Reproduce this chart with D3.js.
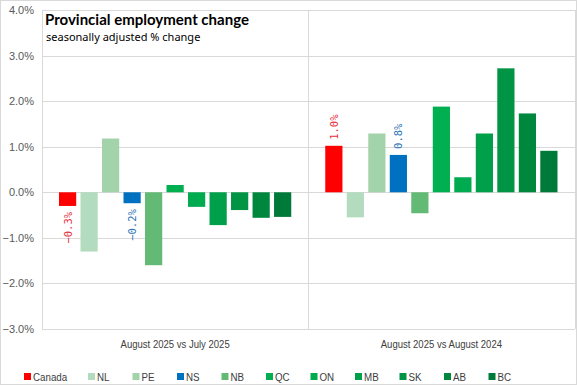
<!DOCTYPE html>
<html>
<head>
<meta charset="utf-8">
<script src="https://cdn.jsdelivr.net/npm/d3@7"></script>
<style>
  body { margin: 0; background: #fff; }
  svg { display: block; }
</style>
</head>
<body>
<div id="chart"></div>
<script>
const categories = ['August 2025 vs July 2025', 'August 2025 vs August 2024'];
const regions = ['Canada', 'NL', 'PE', 'NS', 'NB', 'QC', 'ON', 'MB', 'SK', 'AB', 'BC'];
const monthly = [-0.3, -1.3, 1.18, -0.24, -1.6, 0.16, -0.32, -0.72, -0.39, -0.56, -0.54];
const yearly = [1.02, -0.55, 1.29, 0.82, -0.46, 1.88, 0.33, 1.29, 2.72, 1.73, 0.91];
const colors = ['#ff0000', '#b3dcbf', '#a3d3aa', '#0070c0', '#63ba74', '#00b050',
  '#00aa4f', '#009f49', '#009444', '#00873e', '#007a38'];
const yTicks = [4, 3, 2, 1, 0, -1, -2, -3];
// only Canada and NS get a value label
const labelled = ['Canada', 'NS'];
const labelColors = { Canada: '#e8303a', NS: '#2e75b6' };

const width = 577, height = 385;
const margin = { top: 10, right: 2, bottom: 56, left: 42 };
const narrow = 'Liberation Sans, Arial, sans-serif';

const svg = d3.select('#chart').append('svg')
  .attr('width', width)
  .attr('height', height);

// outer frame
svg.append('rect')
  .attr('x', 0.5).attr('y', 0.5)
  .attr('width', width - 1).attr('height', height - 1)
  .attr('fill', '#fff').attr('stroke', '#d9d9d9');

const series = [monthly, yearly];
const data = [];
categories.forEach((c, i) => {
  regions.forEach((r, j) => {
    data.push({ cat: c, region: r, value: series[i][j] });
  });
});

const x0 = d3.scaleBand()
  .domain(categories)
  .range([margin.left, width - margin.right - 0.5]);

const x1 = d3.scaleBand()
  .domain(regions)
  .range([17, x0.bandwidth() - 17])
  .paddingInner(0.2);

const y = d3.scaleLinear()
  .domain([-3, 4])
  .range([height - margin.bottom, margin.top]);

const color = d3.scaleOrdinal().domain(regions).range(colors);

// gridlines
svg.append('g')
  .selectAll('line')
  .data(yTicks)
  .join('line')
  .attr('x1', margin.left)
  .attr('x2', width - margin.right)
  .attr('y1', d => Math.round(y(d)) + 0.5)
  .attr('y2', d => Math.round(y(d)) + 0.5)
  .attr('stroke', '#d9d9d9')
  .attr('stroke-width', 1);

// category separators
svg.append('g')
  .selectAll('line')
  .data([categories[0], categories[1], 'end'])
  .join('line')
  .attr('x1', d => Math.round(d === 'end' ? x0.range()[1] : x0(d)) + 0.5)
  .attr('x2', d => Math.round(d === 'end' ? x0.range()[1] : x0(d)) + 0.5)
  .attr('y1', y(4))
  .attr('y2', y(-3))
  .attr('stroke', '#d9d9d9');

// y axis labels
const yAxis = d3.axisLeft(y)
  .tickValues(yTicks)
  .tickSize(0)
  .tickPadding(8)
  .tickFormat(d => d3.format('.1f')(d) + '%');

svg.append('g')
  .attr('transform', `translate(${margin.left},0)`)
  .call(yAxis)
  .call(g => g.select('.domain').remove())
  .selectAll('text')
  .attr('font-family', 'Liberation Sans, Arial, sans-serif')
  .attr('font-size', 11)
  .attr('fill', '#595959');

// bars
svg.append('g')
  .selectAll('rect')
  .data(data)
  .join('rect')
  .attr('x', d => x0(d.cat) + x1(d.region))
  .attr('width', x1.bandwidth())
  .attr('y', d => y(Math.max(0, d.value)))
  .attr('height', d => Math.abs(y(d.value) - y(0)))
  .attr('fill', d => color(d.region));

// value labels (rotated)
svg.append('g')
  .selectAll('text')
  .data(data.filter(d => labelled.includes(d.region)))
  .join('text')
  .attr('transform', d => {
    const cx = x0(d.cat) + x1(d.region) + x1.bandwidth() / 2 + 4;
    const cy = d.value >= 0 ? y(d.value) - 6 : y(d.value) + 6;
    return `translate(${cx},${cy}) rotate(-90)`;
  })
  .attr('text-anchor', d => d.value >= 0 ? 'start' : 'end')
  .attr('font-family', 'DejaVu Sans Mono, monospace')
  .attr('font-size', 10.5)
  .attr('fill', d => labelColors[d.region])
  .text(d => d3.format('.1f')(d.value) + '%');

// category labels (squeezed to look like the narrow font)
svg.append('g')
  .selectAll('text')
  .data(categories)
  .join('text')
  .attr('transform', d => `translate(${x0(d) + x0.bandwidth() / 2},348) scale(0.83,1)`)
  .attr('text-anchor', 'middle')
  .attr('font-family', narrow)
  .attr('font-size', 11.5)
  .attr('fill', '#404040')
  .text(d => d);

// title
svg.append('text')
  .attr('x', 45).attr('y', 25)
  .attr('font-family', 'Lato, sans-serif')
  .attr('font-weight', 'bold')
  .attr('font-size', 15)
  .attr('fill', '#000')
  .text('Provincial employment change');

svg.append('text')
  .attr('x', 46).attr('y', 41)
  .attr('font-family', 'Noto Sans, sans-serif')
  .attr('font-size', 11)
  .attr('fill', '#000')
  .text('seasonally adjusted % change');

// legend
const legend = svg.append('g');
let lx = 24;
regions.forEach((r, i) => {
  const item = legend.append('g').attr('transform', `translate(${lx},0)`);
  item.append('rect')
    .attr('x', 0).attr('y', 373)
    .attr('width', 7).attr('height', 7)
    .attr('fill', color(r));
  item.append('text')
    .attr('transform', 'translate(9,381) scale(0.85,1)')
    .attr('font-family', narrow)
    .attr('font-size', 11.5)
    .attr('fill', '#404040')
    .text(r);
  lx += i === 0 ? 64 : 44.5;
});
</script>
</body>
</html>
